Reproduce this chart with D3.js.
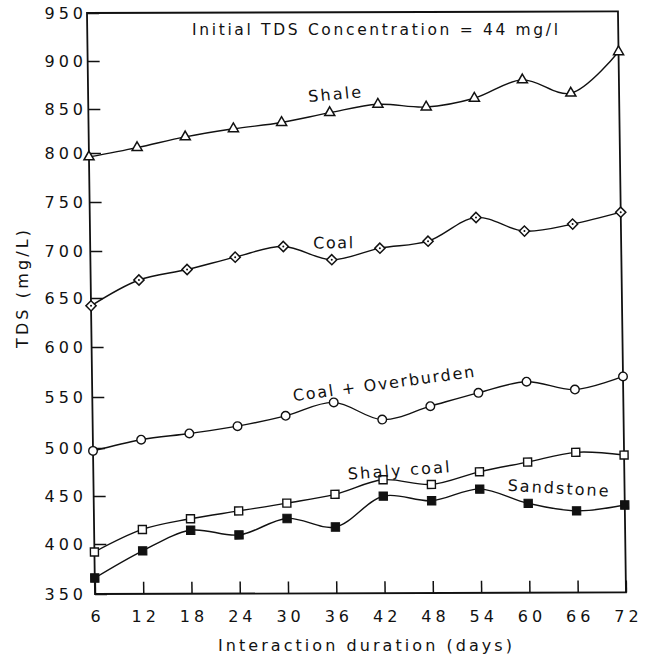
<!DOCTYPE html>
<html><head><meta charset="utf-8">
<script src="https://cdn.jsdelivr.net/npm/d3@7"></script>
<style>html,body{margin:0;padding:0;background:#fff;} svg{display:block;}</style>
</head><body>
<svg id="chart" width="652" height="659"></svg>
<script>
// ---- data ----
const days = [6, 12, 18, 24, 30, 36, 42, 48, 54, 60, 66, 72];
const shale = [796, 806, 818, 827, 834, 845, 854, 851, 860, 879, 865, 908];
const coal = [642, 669, 680, 693, 704, 690, 702, 709, 733, 719, 726, 738];
const coalOverburden = [497, 508, 514, 521, 531, 544, 527, 540, 553, 564, 556, 569];
const shalyCoal = [392, 415, 426, 434, 442, 451, 466, 461, 474, 484, 494, 491];
const sandstone = [366, 393, 414, 409, 426, 417, 449, 444, 456, 441, 433, 439];
const yTicks = [350, 400, 450, 500, 550, 600, 650, 700, 750, 800, 850, 900, 950];
const xTicks = [6, 12, 18, 24, 30, 36, 42, 48, 54, 60, 66, 72];
const seriesNames = ["Shale", "Coal", "Coal + Overburden", "Shaly coal", "Sandstone"];
const titleText = "Initial TDS Concentration = 44 mg/l";
const xTitle = "Interaction duration (days)";
const yTitle = "TDS (mg/L)";
// label anchors in data units (day, TDS)
const labelDays = [36.7, 36.2, 42.3, 44.0, 63.7];
const labelVals = [859, 702, 557, 470, 451];

// ---- layout ----
const x0 = 95, x1 = 626, yTop = 13, yBot = 594;
// tick positions of the hand-drawn axis, as measured (pixels)
const yTickPx = [594, 544, 496, 448, 397, 347, 298, 251, 202, 153, 109, 61, 13];
const FONT = "'DejaVu Sans', Verdana, sans-serif";
const svg = d3.select('#chart');
svg.append('rect').attr('width', 652).attr('height', 659).attr('fill', '#fff');

const x = d3.scaleLinear().domain([6, 72]).range([x0, x1]);
const y = d3.scaleLinear().domain(yTicks).range(yTickPx);

// slightly sheared plot, as in the scanned figure
const plot = svg.append('g')
  .attr('transform', `translate(${x0},${yBot}) skewX(0.79) skewY(-0.17) translate(${-x0},${-yBot})`);

// inward ticks
const yAx = plot.append('g').attr('transform', `translate(${x0},0)`)
  .call(d3.axisRight(y).tickValues(yTicks).tickSize(12).tickFormat(''));
const xAx = plot.append('g').attr('transform', `translate(0,${yBot})`)
  .call(d3.axisTop(x).tickValues(xTicks).tickSize(12).tickFormat(''));
[yAx, xAx].forEach(a => {
  a.select('.domain').remove();
  a.selectAll('line').attr('stroke', '#111').attr('stroke-width', 1.5);
});

// frame
plot.append('rect').attr('x', x0).attr('y', yTop).attr('width', x1 - x0).attr('height', yBot - yTop)
  .attr('fill', 'none').attr('stroke', '#111').attr('stroke-width', 1.8);

// series
const allSeries = [shale, coal, coalOverburden, shalyCoal, sandstone];
const markers = ['triangle', 'diamond', 'circle', 'square', 'filled'];
const line = d3.line().x(d => x(d[0])).y(d => y(d[1])).curve(d3.curveCatmullRom.alpha(0.5));

allSeries.forEach((vals, i) => {
  const pts = days.map((d, j) => [d, vals[j]]);
  const g = plot.append('g');
  g.append('path').attr('d', line(pts)).attr('fill', 'none').attr('stroke', '#111').attr('stroke-width', 1.4);
  const m = g.selectAll('g.m').data(pts).join('g').attr('class', 'm')
    .attr('transform', d => `translate(${x(d[0])},${y(d[1])})`);
  const kind = markers[i];
  if (kind === 'triangle') {
    m.append('path').attr('d', d3.symbol(d3.symbolTriangle, 44)())
      .attr('fill', '#fff').attr('stroke', '#111').attr('stroke-width', 1.5);
  } else if (kind === 'diamond') {
    m.append('path').attr('d', d3.symbol(d3.symbolSquare, 52)()).attr('transform', 'rotate(45)')
      .attr('fill', '#fff').attr('stroke', '#111').attr('stroke-width', 1.5);
    m.append('circle').attr('r', 1).attr('fill', '#111');
  } else if (kind === 'circle') {
    m.append('path').attr('d', d3.symbol(d3.symbolCircle, 58)())
      .attr('fill', '#fff').attr('stroke', '#111').attr('stroke-width', 1.4);
  } else if (kind === 'square') {
    m.append('path').attr('d', d3.symbol(d3.symbolSquare, 64)())
      .attr('fill', '#fff').attr('stroke', '#111').attr('stroke-width', 1.4);
  } else {
    m.append('path').attr('d', d3.symbol(d3.symbolSquare, 70)())
      .attr('fill', '#111').attr('stroke', '#111').attr('stroke-width', 1);
  }
});

// series labels
const labelAngles = [-5, 0, -7.5, -4, 3.5];
const labelLens = [53, 40, 183, 102, 101];
seriesNames.forEach((name, i) => {
  plot.append('text')
    .attr('transform', `translate(${x(labelDays[i])},${y(labelVals[i])}) rotate(${labelAngles[i]})`)
    .attr('text-anchor', 'middle').attr('font-family', FONT).attr('font-size', 16)
    .attr('textLength', labelLens[i]).attr('lengthAdjust', 'spacing')
    .attr('fill', '#111').text(name);
});

// tick labels (unsheared)
const yLab = svg.append('g').attr('transform', 'translate(87,0)')
  .call(d3.axisLeft(y).tickValues(yTicks).tickSize(0).tickPadding(0));
yLab.select('.domain').remove();
yLab.selectAll('text').attr('font-family', FONT).attr('font-size', 16)
  .attr('letter-spacing', '4px').attr('fill', '#111');

const xLab = svg.append('g').attr('transform', 'translate(2,610.5)')
  .call(d3.axisBottom(x).tickValues(xTicks).tickSize(0).tickPadding(0));
xLab.select('.domain').remove();
xLab.selectAll('text').attr('font-family', FONT).attr('font-size', 16)
  .attr('letter-spacing', '4px').attr('fill', '#111');

// titles
svg.append('text').attr('x', 192).attr('y', 35).attr('font-family', FONT).attr('font-size', 15.5)
  .attr('textLength', 366).attr('lengthAdjust', 'spacing').attr('fill', '#111').text(titleText);
svg.append('text').attr('x', 218).attr('y', 651).attr('font-family', FONT).attr('font-size', 16)
  .attr('textLength', 294).attr('lengthAdjust', 'spacing').attr('fill', '#111').text(xTitle);
svg.append('text').attr('transform', 'translate(27.5,289) rotate(-90)').attr('text-anchor', 'middle')
  .attr('font-family', FONT).attr('font-size', 16)
  .attr('textLength', 118).attr('lengthAdjust', 'spacing').attr('fill', '#111').text(yTitle);
</script>
</body></html>
